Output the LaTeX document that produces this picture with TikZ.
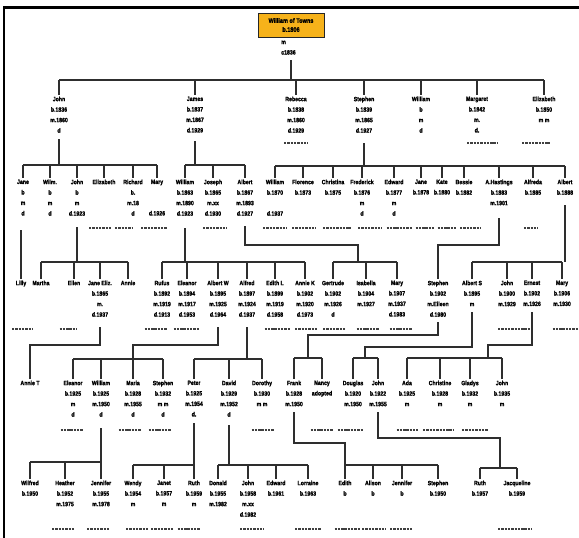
\documentclass[tikz,border=0pt]{standalone}
\usepackage{fontspec}
\setmainfont{Liberation Sans}
\newfontfamily\treefont{Liberation Sans}[FakeStretch=0.84, FakeBold=1.6]
\usetikzlibrary{shadows}
\newcommand\kids[2]{\foreach \c in {#2} {\draw[conn] (\c |- 0,#1) -- ([yshift=1.5pt]\c.north);}}
\newcommand\spousedash[3]{\draw[spouse] ({#1-#3/2},#2) -- ({#1+#3/2},#2);}
\begin{document}
\begin{tikzpicture}[x=1pt,y=-1pt,
  conn/.style={draw=black!82, line width=2.8pt},
  person/.style={anchor=north, inner sep=0pt, align=center, font=\treefont\bfseries\fontsize{6.2}{10.5}\selectfont},
  spouse/.style={draw=black!75, line width=2.3pt, dash pattern=on 2.4pt off 0.9pt},
  rootbox/.style={fill={rgb,255:red,246;green,178;blue,26}, draw=black!85, line width=0.6pt,
     minimum width=66pt, minimum height=24pt, align=center, inner sep=1pt,
     font=\treefont\bfseries\fontsize{6.6}{9}\selectfont,
     drop shadow={shadow xshift=1.2pt, shadow yshift=-1.2pt, fill=black!55}}]
\useasboundingbox (0,0) rectangle (579,538);
\draw[line width=2.6pt] (4,538) -- (4,7.5) -- (579,7.5);

% generation 0
\node[rootbox] (root) at (291,25) {William of Towns\\b.1806};
\node[person, anchor=north west, align=left] (rootm) at (281,40.5) {m\\c1836};
\draw[conn] (root |- 0,60) -- (root |- 0,80);

% generation 1
\node[person] (g1john) at (59,96.5) {John\\b.1836\\m.1860\\d};
\node[person] (g1james) at (195,96.5) {James\\b.1837\\m.1867\\d.1929};
\node[person] (g1rebecca) at (296,96.5) {Rebecca\\b.1838\\m.1860\\d.1929};
\node[person] (g1stephen) at (364,96.5) {Stephen\\b.1839\\m.1865\\d.1927};
\node[person] (g1william) at (421,96.5) {William\\b\\m\\d};
\node[person] (g1margaret) at (477,96.5) {Margaret\\b.1842\\m.\\d.};
\node[person] (g1elizabeth) at (544,96.5) {Elizabeth\\b.1850\\m m};
\draw[conn] (g1john |- 0,80) -- (g1elizabeth |- 0,80);
\kids{80}{g1john,g1james,g1rebecca,g1stephen,g1william,g1margaret,g1elizabeth}
\spousedash{296}{143}{24}
\spousedash{482}{143}{30}
\spousedash{536}{143}{28}

% generation 2
\node[person] (g2jane) at (23,179.5) {Jane\\b\\m\\d};
\node[person] (g2wilm) at (50,179.5) {Wilm.\\b\\m\\d};
\node[person] (g2john) at (77,179.5) {John\\b\\m\\d.1923};
\node[person] (g2elizabeth) at (104,179.5) {Elizabeth};
\node[person] (g2richard) at (133,179.5) {Richard\\b.\\m.18\\d};
\node[person] (g2mary) at (157,179.5) {Mary\\~\\~\\d.1926};
\node[person] (g2william) at (185,179.5) {William\\b.1863\\m.1890\\d.1923};
\node[person] (g2joseph) at (213,179.5) {Joseph\\b.1865\\m.xx\\d.1930};
\node[person] (g2albert) at (245,179.5) {Albert\\b.1867\\m.1893\\d.1927};
\node[person] (g2william2) at (275,179.5) {William\\b.1870\\~\\d.1937};
\node[person] (g2florence) at (303,179.5) {Florence\\b.1873};
\node[person] (g2christina) at (333,179.5) {Christina\\b.1875};
\node[person] (g2frederick) at (362,179.5) {Frederick\\b.1876\\m\\d};
\node[person] (g2edward) at (394,179.5) {Edward\\b.1877\\m\\d};
\node[person] (g2jane2) at (421,179.5) {Jane\\b.1878};
\node[person] (g2kate) at (442,179.5) {Kate\\b.1880};
\node[person] (g2bessie) at (464,179.5) {Bessie\\b.1882};
\node[person] (g2hastings) at (499,179.5) {A.Hastings\\b.1883\\m.1901};
\node[person] (g2alfreda) at (533,179.5) {Alfreda\\b.1885};
\node[person] (g2albert2) at (565,179.5) {Albert\\b.1888};

\draw[conn] (g1john |- 0,139) -- (g1john |- 0,165);
\draw[conn] (g2jane |- 0,165) -- (g2mary |- 0,165);
\kids{165}{g2jane,g2wilm,g2john,g2elizabeth,g2richard,g2mary}
\draw[conn] (g1james |- 0,141) -- (g1james |- 0,165);
\draw[conn] (g2william |- 0,165) -- (g2albert |- 0,165);
\kids{165}{g2william,g2joseph,g2albert}
\draw[conn] (g1stephen |- 0,143) -- (g1stephen |- 0,166);
\draw[conn] (g2william2 |- 0,166) -- (g2albert2 |- 0,166);
\kids{166}{g2william2,g2florence,g2christina,g2frederick,g2edward,g2jane2,g2kate,g2bessie,g2hastings,g2alfreda,g2albert2}

\spousedash{100}{228}{22}
\spousedash{124}{228}{18}
\spousedash{154}{228}{26}
\spousedash{215}{228}{24}
\spousedash{275}{228}{24}
\spousedash{304}{228}{24}
\spousedash{337}{228}{28}
\spousedash{370}{228}{24}
\spousedash{399}{228}{25}
\spousedash{425}{228}{19}
\spousedash{447}{228}{19}
\spousedash{470}{228}{20}
\spousedash{531}{228}{14}

% generation 3
\node[person] (g3lilly) at (21,280.5) {Lilly};
\node[person] (g3martha) at (41,280.5) {Martha};
\node[person] (g3ellen) at (74,280.5) {Ellen};
\node[person] (g3janeeliza) at (100,280.5) {Jane Eliz.\\b.1865\\m.\\d.1937};
\node[person] (g3annie) at (128,280.5) {Annie};
\node[person] (g3rufus) at (162,280.5) {Rufus\\b.1892\\m.1919\\d.1913};
\node[person] (g3eleanor) at (187,280.5) {Eleanor\\b.1894\\m.1917\\d.1953};
\node[person] (g3albertw) at (218,280.5) {Albert W\\b.1895\\m.1925\\d.1964};
\node[person] (g3alfred) at (247,280.5) {Alfred\\b.1897\\m.1924\\d.1937};
\node[person] (g3edithl) at (275,280.5) {Edith L\\b.1899\\m.1919\\d.1958};
\node[person] (g3anniek) at (305,280.5) {Annie K\\b.1902\\m.1920\\d.1973};
\node[person] (g3gertrude) at (333,280.5) {Gertrude\\b.1902\\m.1926\\d};
\node[person] (g3isabella) at (366,280.5) {Isabella\\b.1904\\m.1927};
\node[person] (g3mary) at (397,280.5) {Mary\\b.1907\\m.1937\\d.1983};
\node[person] (g3stephen) at (438,280.5) {Stephen\\b.1902\\m.Eileen\\d.1980};
\node[person] (g3alberts) at (472,280.5) {Albert S\\b.1895\\m};
\node[person] (g3john) at (507,280.5) {John\\b.1900\\m.1929};
\node[person] (g3ernest) at (532,280.5) {Ernest\\b.1902\\m.1926};
\node[person] (g3mary2) at (562,280.5) {Mary\\b.1906\\m.1930};

\draw[conn] (g3lilly |- 0,230) -- ([yshift=1.5pt]g3lilly.north);
\draw[conn] (g2john |- 0,227) -- (g2john |- 0,262);
\draw[conn] (g3martha |- 0,262) -- (g3annie |- 0,262);
\kids{262}{g3martha,g3ellen,g3janeeliza,g3annie}
\draw[conn] (g2william |- 0,228) -- (g2william |- 0,262);
\draw[conn] (g3rufus |- 0,262) -- (g3anniek |- 0,262);
\kids{262}{g3rufus,g3eleanor,g3albertw,g3alfred,g3edithl,g3anniek}
\coordinate (ja) at (358,245);
\draw[conn] (g2albert |- 0,226) |- (ja) -- (ja |- 0,262);
\draw[conn] (g3gertrude |- 0,262) -- (g3mary |- 0,262);
\kids{262}{g3gertrude,g3isabella,g3mary}
\draw[conn] (g2hastings |- 0,218) |- (g3stephen |- 0,245) -- ([yshift=1.5pt]g3stephen.north);
\draw[conn] (g2albert2 |- 0,205) -- (g2albert2 |- 0,262);
\draw[conn] (g3alberts |- 0,262) -- (g3mary2 |- 0,262);
\kids{262}{g3alberts,g3john,g3ernest,g3mary2}

\spousedash{22}{329}{20}
\spousedash{68}{329}{17}
\spousedash{156}{329}{23}
\spousedash{186}{329}{25}
\spousedash{277}{329}{25}
\spousedash{306}{329}{22}
\spousedash{334}{329}{22}
\spousedash{368}{329}{23}
\spousedash{401}{329}{23}
\spousedash{514}{329}{32}
\spousedash{565}{329}{25}

% generation 4
\node[person] (g4anniet) at (30,380.5) {Annie T};
\node[person] (g4eleanor) at (73,380.5) {Eleanor\\b.1925\\m\\d};
\node[person] (g4william) at (101,380.5) {William\\b.1925\\m.1950\\d};
\node[person] (g4maria) at (133,380.5) {Maria\\b.1928\\m.1955\\d};
\node[person] (g4stephen) at (163,380.5) {Stephen\\b.1932\\m m\\d};
\node[person] (g4peter) at (194,380.5) {Peter\\b.1925\\m.1954\\d.};
\node[person] (g4david) at (229,380.5) {David\\b.1929\\m.1952\\d};
\node[person] (g4dorothy) at (262,380.5) {Dorothy\\b.1930\\m m};
\node[person] (g4frank) at (294,380.5) {Frank\\b.1928\\m.1950};
\node[person] (g4nancy) at (322,380.5) {Nancy\\adopted};
\node[person] (g4douglas) at (353,380.5) {Douglas\\b.1920\\m.1950};
\node[person] (g4john) at (378,380.5) {John\\b.1922\\m.1955};
\node[person] (g4ada) at (407,380.5) {Ada\\b.1925\\m};
\node[person] (g4christine) at (440,380.5) {Christine\\b.1928\\m};
\node[person] (g4gladys) at (470,380.5) {Gladys\\b.1932\\m};
\node[person] (g4john2) at (502,380.5) {John\\b.1935\\m};

\draw[conn] (g3janeeliza |- 0,327) |- (g4anniet |- 0,345) -- ([yshift=1.5pt]g4anniet.north);
\draw[conn] (g3albertw |- 0,327) |- (g4maria |- 0,345) -- (g4maria |- 0,359);
\draw[conn] (g4eleanor |- 0,359) -- (g4stephen |- 0,359);
\kids{359}{g4eleanor,g4william,g4maria,g4stephen}
\draw[conn] (g3alfred |- 0,327) -- (g3alfred |- 0,359);
\draw[conn] (g4peter |- 0,359) -- (g4dorothy |- 0,359);
\kids{359}{g4peter,g4david,g4dorothy}
\coordinate (js) at (308,335);
\draw[conn] (g3stephen |- 0,322) |- (js) -- (js |- 0,358);
\draw[conn] (g4frank |- 0,358) -- (g4nancy |- 0,358);
\kids{358}{g4frank,g4nancy}
\coordinate (jas) at (365,347);
\draw[conn] (g3alberts |- 0,312) |- (jas) -- (jas |- 0,358);
\draw[conn] (g4douglas |- 0,358) -- (g4john |- 0,358);
\kids{358}{g4douglas,g4john}
\coordinate (je) at (488,345);
\draw[conn] (g3ernest |- 0,312) |- (je) -- (je |- 0,358);
\draw[conn] (g4ada |- 0,358) -- (g4john2 |- 0,358);
\kids{358}{g4ada,g4christine,g4gladys,g4john2}

\spousedash{72}{430}{23}
\spousedash{130}{430}{23}
\spousedash{160}{430}{23}
\spousedash{263}{430}{23}
\spousedash{322}{430}{23}
\spousedash{350}{430}{25}
\spousedash{407}{430}{21}
\spousedash{438}{430}{30}
\spousedash{475}{430}{26}

% generation 5
\node[person] (g5wilfred) at (30,480.5) {Wilfred\\b.1950};
\node[person] (g5heather) at (65,480.5) {Heather\\b.1952\\m.1975};
\node[person] (g5jennifer) at (101,480.5) {Jennifer\\b.1955\\m.1978};
\node[person] (g5wendy) at (133,480.5) {Wendy\\b.1954\\m};
\node[person] (g5janet) at (164,480.5) {Janet\\b.1957\\m};
\node[person] (g5ruth) at (194,480.5) {Ruth\\b.1959\\m};
\node[person] (g5donald) at (218,480.5) {Donald\\b.1955\\m.1982};
\node[person] (g5john) at (248,480.5) {John\\b.1958\\m.xx\\d.1982};
\node[person] (g5edward) at (276,480.5) {Edward\\b.1961};
\node[person] (g5lorraine) at (308,480.5) {Lorraine\\b.1963};
\node[person] (g5edith) at (345,480.5) {Edith\\b};
\node[person] (g5alison) at (373,480.5) {Alison\\b};
\node[person] (g5jennifer2) at (402,480.5) {Jennifer\\b};
\node[person] (g5stephen) at (438,480.5) {Stephen\\b.1950};
\node[person] (g5ruth2) at (480,480.5) {Ruth\\b.1957};
\node[person] (g5jacqueline) at (517,480.5) {Jacqueline\\b.1959};

\draw[conn] (g4william |- 0,428) -- (g4william |- 0,462);
\draw[conn] (g5wilfred |- 0,462) -- (g5jennifer |- 0,462);
\kids{462}{g5wilfred,g5heather,g5jennifer}
\draw[conn] (g4peter |- 0,423) -- (g4peter |- 0,465);
\draw[conn] (g5wendy |- 0,465) -- (g5ruth |- 0,465);
\kids{465}{g5wendy,g5janet,g5ruth}
\draw[conn] (g4david |- 0,425) -- (g4david |- 0,465);
\draw[conn] (g5donald |- 0,465) -- (g5lorraine |- 0,465);
\kids{465}{g5donald,g5john,g5edward,g5lorraine}
\coordinate (jf) at (345,443);
\draw[conn] (g4frank |- 0,412) |- (jf) -- (jf |- 0,465);
\draw[conn] (g5edith |- 0,465) -- (g5stephen |- 0,465);
\kids{465}{g5edith,g5alison,g5jennifer2,g5stephen}
\coordinate (jj) at (500,438);
\draw[conn] (g4john |- 0,412) |- (jj) -- (jj |- 0,468);
\draw[conn] (g5ruth2 |- 0,468) -- (g5jacqueline |- 0,468);
\kids{468}{g5ruth2,g5jacqueline}

\spousedash{63}{529}{22}
\spousedash{98}{529}{22}
\spousedash{137}{529}{22}
\spousedash{162}{529}{22}
\spousedash{189}{529}{23}
\spousedash{252}{529}{24}
\spousedash{308}{529}{26}
\spousedash{347}{529}{25}
\spousedash{374}{529}{24}
\spousedash{401}{529}{22}
\spousedash{515}{529}{34}
\end{tikzpicture}
\end{document}
